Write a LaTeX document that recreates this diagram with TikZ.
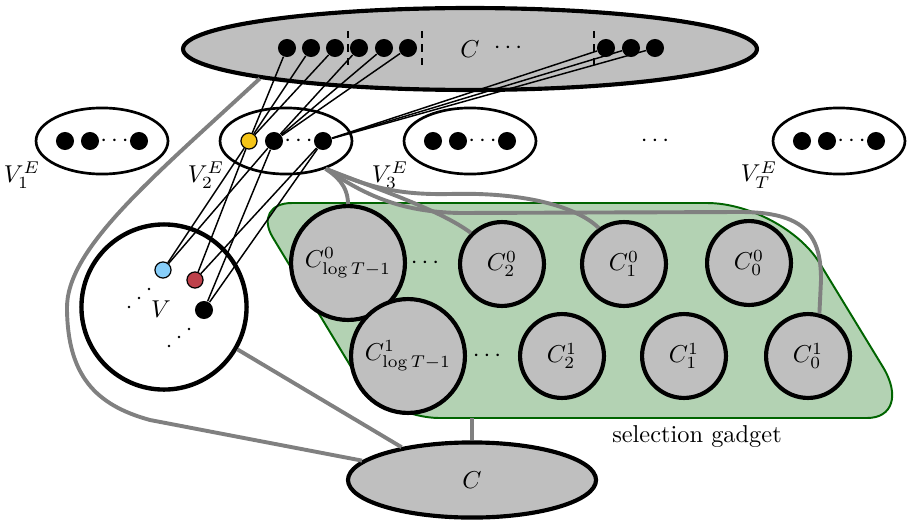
\documentclass[tikz,border=0pt]{standalone}
\usetikzlibrary{shapes.geometric}
\definecolor{gadgetfill}{RGB}{179,210,179}
\definecolor{gadgetdraw}{RGB}{0,100,0}
\definecolor{ecolyellow}{RGB}{245,197,24}
\definecolor{vblue}{RGB}{135,206,250}
\definecolor{vred}{RGB}{190,65,75}
\definecolor{conn}{RGB}{128,128,128}
\definecolor{cfill}{RGB}{191,191,191}
\begin{document}
\begin{tikzpicture}[x=0.41pt,y=-0.41pt,
  bigell/.style={ellipse,draw,line width=1.7pt,fill=cfill,inner sep=0pt},
  setell/.style={ellipse,draw,line width=1.1pt,minimum width=54.1pt,minimum height=27.1pt,inner sep=0pt},
  dotnode/.style={circle,fill=black,inner sep=0pt,minimum size=7.4pt},
  cdot/.style={circle,draw=black,line width=0.5pt,inner sep=0pt,minimum size=6.6pt},
  gbig/.style={circle,draw,line width=1.7pt,fill=cfill,inner sep=0pt,minimum size=46.7pt},
  gsmall/.style={circle,draw,line width=1.7pt,fill=cfill,inner sep=0pt,minimum size=34.4pt},
  tinydot/.style={circle,fill=black,inner sep=0pt,minimum size=1.1pt},
  edgeline/.style={line width=0.6pt},
  grayconn/.style={draw=conn,line width=1.6pt},
  sepline/.style={line width=0.5pt,dash pattern=on 3pt off 2.5pt},
]
\useasboundingbox (0,0) rectangle (907,523);

% selection gadget
\path[fill=gadgetfill,draw=gadgetdraw,line width=0.8pt]
  (292,203) -- (707,203) .. controls (748.8,203) and (799.4,229.9) .. (819.4,262.8)
  -- (882.8,366.8) .. controls (900,395) and (892.9,418) .. (867,418)
  -- (440,418) .. controls (408.1,418) and (370.8,399.5) .. (357.1,376.9)
  -- (272.7,237.3) .. controls (261.3,218.4) and (270,203) .. (292,203) -- cycle;
\node (sglabel) at (697,437) {selection gadget};

% top C
\node[bigell,minimum width=235.3pt,minimum height=33.6pt] (Ctop) at (470,49) {$C$};
\node (ctopdots) at (508,48) {$\cdots$};
\draw[sepline] (348,31) -- (348,67);
\draw[sepline] (422,31) -- (422,67);
\draw[sepline] (594,31) -- (594,67);
\foreach \n/\x in {t1/287,t2/311,t3/335,t4/359,t5/384,t6/408,r1/606,r2/631,r3/655}
  \node[dotnode] (\n) at (\x,48) {};

% edge sets
\foreach \n/\cx/\lab in {VA/102/1,VB/286/2,VC/470/3,VT/839/T}{
  \node[setell] (\n) at (\cx,141) {};
  \node (\n lab) at (\cx-80,175) {$V_{\lab}^{E}$};
}
\foreach \n/\cx in {VA/102,VC/470,VT/839}{
  \node[dotnode] (\n d1) at (\cx-37,141) {};
  \node[dotnode] (\n d2) at (\cx-12,141) {};
  \node[dotnode] (\n d3) at (\cx+37,141) {};
  \node (\n dd) at (\cx+12.5,141) {$\cdots$};
}
\node[cdot,fill=ecolyellow] (e1) at (249,141) {};
\node[dotnode] (e2) at (274,141) {};
\node[dotnode] (e3) at (323,141) {};
\node (VBdd) at (298.5,141) {$\cdots$};
\node (midots) at (655,141) {$\cdots$};

% V
\node[circle,draw,line width=1.8pt,minimum size=67.7pt,inner sep=0pt] (Vc) at (164,307) {};
\node (Vlab) at (161,309) {$V$};
\node[cdot,fill=vblue] (vb) at (163,270) {};
\node[cdot,fill=vred] (vr) at (195,280) {};
\node[dotnode] (vk) at (204,310) {};
\foreach \i/\x/\y in {1/129/307,2/139/298,3/149/289,4/169/346,5/179/337,6/189/329}
  \node[tinydot] (vdot\i) at (\x,\y) {};

% gadget circles
\node[gbig] (Cl0) at (348,263) {$C^0_{\log T-1}$};
\node[gsmall] (Ct2) at (502,264) {$C^0_2$};
\node[gsmall] (Ct1) at (624,264) {$C^0_1$};
\node[gsmall] (Ct0) at (749,263) {$C^0_0$};
\node[gbig] (Cl1) at (408,356) {$C^1_{\log T-1}$};
\node[gsmall] (Cb2) at (562,356) {$C^1_2$};
\node[gsmall] (Cb1) at (684,356) {$C^1_1$};
\node[gsmall] (Cb0) at (808,356) {$C^1_0$};
\node (gdots0) at (425,263) {$\cdots$};
\node (gdots1) at (487,356) {$\cdots$};

% bottom C
\node[bigell,minimum width=101.7pt,minimum height=30.8pt] (Cbot) at (472,480) {$C$};

% black edges
\foreach \a/\b in {t1/e1,t2/e1,t3/e1,t4/e2,t5/e2,t6/e2,r1/e3,r2/e3,r3/e3,e1/vb,e1/vr,e2/vb,e2/vk,e3/vr,e3/vk}
  \draw[edgeline] (\a) -- (\b);

% gray connectors
\draw[grayconn] (VB.-35) .. controls (335,175) and (348,185) .. (Cl0.north);
\draw[grayconn] (VB.-35) .. controls (380,190) and (440,210) .. (Ct2.135);
\draw[grayconn] (VB.-35) .. controls (370,188) and (400,195) .. (450,194)
  .. controls (520,192) and (575,205) .. (Ct1.125);
\draw[grayconn] (VB.-35) .. controls (365,195) and (400,212) .. (460,213) -- (740,212)
  .. controls (805,212) and (821,235) .. (821,280) -- (Cb0.75);
\draw[grayconn] (Vc.-30) -- (Cbot.155);
\coordinate (gb) at (472,418);
\draw[grayconn] (gb) -- (Cbot.north);
\draw[grayconn] (Ctop.188) .. controls (150,180) and (65,250) .. (67,310)
  .. controls (68,375) and (95,405) .. (150,420) -- (Cbot.170);
\end{tikzpicture}
\end{document}
